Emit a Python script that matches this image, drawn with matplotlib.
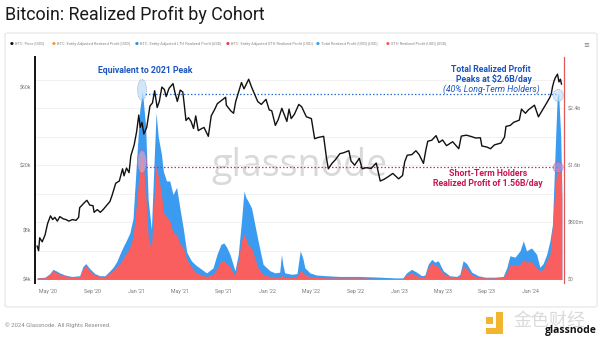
import matplotlib
matplotlib.use("Agg")
import matplotlib.pyplot as plt
import matplotlib.dates as mdates
from matplotlib.patches import Ellipse, FancyBboxPatch, Rectangle
import pandas as pd

# ---------------- data ----------------
price_dates = ["2020-04-01","2020-04-05","2020-04-08","2020-04-15","2020-04-23","2020-04-30","2020-05-08","2020-05-14",
"2020-05-20","2020-05-27","2020-06-03","2020-06-12","2020-06-20","2020-06-28","2020-07-08","2020-07-18","2020-07-25",
"2020-07-28","2020-08-02","2020-08-10","2020-08-17","2020-08-25","2020-09-03","2020-09-06","2020-09-15","2020-09-23",
"2020-10-01","2020-10-10","2020-10-20","2020-10-26","2020-11-05","2020-11-15","2020-11-24","2020-11-28","2020-12-05",
"2020-12-12","2020-12-17","2020-12-26","2021-01-02","2021-01-08","2021-01-12","2021-01-17","2021-01-22","2021-01-30",
"2021-02-08","2021-02-15","2021-02-21","2021-02-28","2021-03-06","2021-03-13","2021-03-20","2021-03-25","2021-04-02",
"2021-04-13","2021-04-18","2021-04-25","2021-05-03","2021-05-10","2021-05-13","2021-05-19","2021-05-26","2021-06-02",
"2021-06-09","2021-06-15","2021-06-22","2021-07-02","2021-07-08","2021-07-20","2021-07-28","2021-08-07","2021-08-14",
"2021-08-22","2021-09-06","2021-09-08","2021-09-20","2021-09-28","2021-10-04","2021-10-14","2021-10-20","2021-10-27",
"2021-11-09","2021-11-17","2021-11-26","2021-12-04","2021-12-14","2021-12-27","2022-01-05","2022-01-12","2022-01-22",
"2022-01-30","2022-02-09","2022-02-23","2022-03-01","2022-03-07","2022-03-16","2022-03-28","2022-04-05","2022-04-18",
"2022-05-02","2022-05-11","2022-05-20","2022-06-05","2022-06-13","2022-06-18","2022-06-28","2022-07-07","2022-07-20",
"2022-07-30","2022-08-14","2022-08-20","2022-08-30","2022-09-12","2022-09-20","2022-10-01","2022-10-15","2022-10-29",
"2022-11-09","2022-11-20","2022-12-01","2022-12-14","2022-12-30","2023-01-10","2023-01-16","2023-01-23","2023-02-05",
"2023-02-16","2023-02-25","2023-03-09","2023-03-16","2023-03-21","2023-04-01","2023-04-13","2023-04-21","2023-05-01",
"2023-05-12","2023-05-29","2023-06-15","2023-06-22","2023-07-06","2023-07-20","2023-08-01","2023-08-14","2023-08-18",
"2023-09-01","2023-09-11","2023-09-22","2023-10-10","2023-10-20","2023-10-24","2023-11-05","2023-11-14","2023-11-30",
"2023-12-06","2023-12-17","2023-12-25","2024-01-11","2024-01-22","2024-02-01","2024-02-14","2024-02-23","2024-02-27",
"2024-03-01","2024-03-05","2024-03-09","2024-03-15","2024-03-19","2024-03-23","2024-03-26"]
price_k = [6.4,6.0,7.2,6.8,7.5,8.8,9.8,9.3,
9.6,9.1,9.7,9.4,9.3,9.1,9.3,9.2,9.6,
11.0,11.3,11.8,12.2,11.4,11.3,10.3,10.7,10.3,
10.7,11.3,12.0,13.1,15.5,16.0,19.0,17.2,19.2,
18.0,22.8,26.5,32.0,40.5,34.0,36.5,31.0,34.0,
46.0,48.0,57.0,45.0,49.0,60.0,58.0,52.5,59.0,
63.0,56.0,49.0,57.5,56.0,49.5,37.5,39.0,37.0,
33.5,40.0,32.5,33.5,34.0,30.0,40.0,44.0,47.5,
49.0,52.0,46.5,43.0,41.5,49.0,58.0,64.0,58.5,
67.0,60.0,54.0,49.0,47.0,50.5,43.5,43.0,35.0,
38.0,44.5,37.0,44.0,38.5,41.0,47.0,45.5,39.5,
38.5,29.0,29.5,30.0,22.0,19.0,20.5,21.5,23.5,
23.8,24.5,21.2,20.0,22.0,19.0,19.3,19.1,20.6,
16.0,16.4,17.0,17.8,16.5,17.3,21.0,23.0,23.2,
24.5,23.2,20.5,25.0,28.0,28.4,30.3,27.5,28.5,
26.3,27.8,25.2,30.1,30.5,29.9,29.3,29.4,26.2,
25.8,25.2,26.6,27.3,29.7,34.5,35.0,36.5,37.7,
44.0,41.5,43.5,46.5,39.5,43.0,48.0,52.0,55.0,
60.0,65.0,68.5,72.0,64.5,67.0,62.6]

rp_dates = ["2020-04-01","2020-04-23","2020-05-06","2020-05-15","2020-05-23","2020-06-03","2020-06-17","2020-07-06",
"2020-07-28","2020-08-06","2020-08-14","2020-08-25","2020-09-08","2020-09-22","2020-10-06","2020-10-20","2020-10-29",
"2020-11-08","2020-11-17","2020-11-25","2020-12-05","2020-12-14","2020-12-23","2021-01-02","2021-01-11","2021-01-18",
"2021-01-27","2021-02-03","2021-02-12","2021-02-19","2021-02-25","2021-03-03","2021-03-12","2021-03-17","2021-03-26",
"2021-04-04","2021-04-13","2021-04-23","2021-05-02","2021-05-11","2021-05-21","2021-06-03","2021-06-15","2021-06-26",
"2021-07-15","2021-08-02","2021-08-13","2021-08-24","2021-09-01","2021-09-09","2021-09-18","2021-10-02","2021-10-11",
"2021-10-20","2021-10-27","2021-11-01","2021-11-07","2021-11-17","2021-11-26","2021-12-05","2021-12-19","2022-01-07",
"2022-01-21","2022-02-03","2022-02-08","2022-02-12","2022-02-17","2022-03-09","2022-03-23","2022-04-01","2022-04-08",
"2022-04-14","2022-04-28","2022-05-16","2022-06-13","2022-07-20","2022-09-14","2022-11-08","2022-12-20","2023-01-11",
"2023-01-21","2023-02-04","2023-02-18","2023-03-04","2023-03-13","2023-03-22","2023-04-01","2023-04-10","2023-04-19",
"2023-05-03","2023-05-21","2023-06-09","2023-06-18","2023-06-27","2023-07-07","2023-07-21","2023-08-08","2023-08-27",
"2023-09-23","2023-10-16","2023-10-26","2023-11-04","2023-11-18","2023-12-02","2023-12-11","2023-12-20","2024-01-03",
"2024-01-17","2024-01-26","2024-02-04","2024-02-14","2024-02-23","2024-03-01","2024-03-08","2024-03-14","2024-03-18",
"2024-03-24","2024-03-27"]
total_rp_b = [0.02,0.03,0.08,0.14,0.12,0.09,0.06,0.04,
0.05,0.18,0.22,0.15,0.08,0.05,0.05,0.12,0.17,
0.25,0.36,0.45,0.55,0.65,0.85,1.68,2.39,2.64,
2.15,1.12,0.70,1.60,2.34,2.00,1.75,1.52,1.38,
1.38,1.19,1.29,1.00,0.73,0.38,0.26,0.20,0.16,
0.09,0.16,0.35,0.49,0.51,0.45,0.35,0.12,0.35,
0.82,1.24,1.15,1.10,1.00,0.77,0.54,0.21,0.12,
0.09,0.10,0.35,0.20,0.09,0.07,0.08,0.40,0.30,
0.16,0.09,0.06,0.05,0.04,0.04,0.03,0.02,0.02,
0.09,0.14,0.10,0.05,0.06,0.21,0.28,0.24,0.26,
0.12,0.05,0.04,0.07,0.26,0.22,0.10,0.05,0.03,
0.03,0.04,0.16,0.33,0.31,0.40,0.54,0.40,0.44,
0.35,0.17,0.22,0.35,0.54,0.77,1.75,2.55,2.62,
1.99,1.29]
sth_rp_b = [0.02,0.02,0.07,0.12,0.10,0.07,0.05,0.03,
0.04,0.15,0.19,0.12,0.06,0.04,0.04,0.09,0.12,
0.18,0.22,0.30,0.37,0.45,0.60,1.08,1.59,1.75,
1.22,0.61,0.42,1.10,1.61,1.45,1.20,0.94,0.88,
0.82,0.66,0.63,0.50,0.45,0.28,0.17,0.10,0.07,
0.04,0.07,0.15,0.26,0.26,0.22,0.17,0.05,0.26,
0.54,0.63,0.58,0.49,0.44,0.30,0.16,0.07,0.04,
0.03,0.03,0.06,0.05,0.03,0.03,0.04,0.12,0.10,
0.06,0.04,0.03,0.02,0.02,0.02,0.01,0.01,0.01,
0.06,0.09,0.05,0.03,0.04,0.16,0.23,0.20,0.18,
0.08,0.04,0.03,0.05,0.19,0.15,0.06,0.03,0.02,
0.02,0.03,0.09,0.21,0.20,0.21,0.28,0.24,0.25,
0.16,0.12,0.14,0.26,0.35,0.73,1.29,1.56,1.58,
1.47,1.15]

left_ticks = [4000, 8000, 20000, 60000]
left_labels = ["$4k", "$8k", "$20k", "$60k"]
right_ticks = [0, 0.8, 1.6, 2.4]
right_labels = ["$0", "$800m", "$1.6b", "$2.4b"]
grid_levels = [0, 0.4, 0.8, 1.2, 1.6, 2.0, 2.4, 2.8]

legend_items = ["BTC: Price [USD]", "BTC: Entity-Adjusted Realized Profit [USD]",
                "BTC: Entity-Adjusted LTH Realized Profit [USD]", "BTC: Entity-Adjusted STH Realized Profit [USD]",
                "Total Realized Profit [USD] [USD]", "STH Realized Profit [USD] [USD]"]
legend_colors = ["#111111", "#f29a2e", "#2f8de4", "#e0435a", "#3a9bf0", "#f25d5d"]

# ---------------- figure ----------------
W, H = 600, 341
fig = plt.figure(figsize=(6, 3.41), dpi=100)
fig.patch.set_facecolor("white")
FONT = "Roboto"

def fx(px):
    return px / W

def fy(py):
    return 1 - py / H

panel = FancyBboxPatch((fx(5), fy(307)), fx(592), (307 - 33) / H,
                       boxstyle="round,pad=0,rounding_size=0.004",
                       transform=fig.transFigure, fc="white", ec="#e4e4e4", lw=0.8, zorder=-3)
fig.patches.append(panel)

# watermark
fig.text(fx(300), fy(166), "glassnode", fontsize=27, color="#d9d9d9", family="Open Sans",
         ha="center", va="center", zorder=-1)

ax2 = fig.add_axes([fx(35), fy(283), fx(564 - 35), (283 - 57) / H])
ax = ax2.twinx()
ax.set_zorder(ax2.get_zorder() + 1)
ax.patch.set_visible(False)
ax2.patch.set_visible(False)

pdates = pd.to_datetime(price_dates)
rdates = pd.to_datetime(rp_dates)

blue = "#3a9bf0"
red = "#fa5f5f"
ax2.fill_between(rdates, 0, total_rp_b, color=blue, lw=0, zorder=2)
ax2.fill_between(rdates, 0, sth_rp_b, color=red, lw=0, zorder=3)

ax.plot(pdates, [p * 1000 for p in price_k], color="#111111", lw=1.0, zorder=5)

# axes scales
ax2.set_xlim(pd.Timestamp("2020-03-26"), pd.Timestamp("2024-04-02"))
ax2.set_ylim(-0.052, 3.12)
ax.set_yscale("log")
ax.set_ylim(3810, 91600)

ax.yaxis.tick_left()
ax.yaxis.set_label_position("left")
ax2.yaxis.tick_right()
ax.set_yticks(left_ticks)
ax.set_yticklabels(left_labels)
ax.yaxis.set_minor_locator(matplotlib.ticker.NullLocator())
ax2.set_yticks(grid_levels)
ax2.set_yticklabels([right_labels[right_ticks.index(v)] if v in right_ticks else "" for v in grid_levels])
ax2.grid(axis="y", color="#efefef", lw=0.6)
ax2.set_axisbelow(True)

ax2.xaxis.set_major_locator(mdates.MonthLocator(bymonth=[1, 5, 9]))
ax2.xaxis.set_major_formatter(mdates.DateFormatter("%b '%y"))

for a in (ax, ax2):
    a.tick_params(axis="both", length=0, labelsize=3.8, labelcolor="#777777")
    for s in a.spines.values():
        s.set_visible(False)
ax.tick_params(axis="y", pad=3)
ax2.tick_params(axis="y", pad=3)
ax2.tick_params(axis="x", pad=4)
for lab in ax.get_yticklabels() + ax2.get_yticklabels() + ax2.get_xticklabels():
    lab.set_family(FONT)

ax.spines["left"].set_visible(True)
ax.spines["left"].set_color("#111111")
ax.spines["left"].set_linewidth(1.4)
ax2.spines["right"].set_visible(True)
ax2.spines["right"].set_color("#e05a5a")
ax2.spines["right"].set_linewidth(0.9)

# reference lines and highlight ellipses
d2n = lambda s: mdates.date2num(pd.Timestamp(s))
ax2.hlines(2.6, d2n("2021-01-24"), d2n("2024-03-11"), colors="#2f6fd0",
           linestyles=(0, (1.2, 1.6)), lw=0.9, zorder=6)
ax2.hlines(1.58, d2n("2021-01-28"), d2n("2024-03-13"), colors="#c2336b",
           linestyles=(0, (1.2, 1.6)), lw=0.9, zorder=6)

ell_specs = [("2021-01-17", 2.66, 25, 0.29, "#bcd8f4", "#5b9bd8"),
             ("2021-01-17", 1.65, 25, 0.32, "#d9a6cf", "#c2407a"),
             ("2024-03-17", 2.58, 28, 0.17, "#c4dcf4", "#5b9bd8"),
             ("2024-03-17", 1.57, 28, 0.15, "#b890d6", "#c2407a")]
for d, yv, wd, ht, fc, ec in ell_specs:
    e = Ellipse((d2n(d), yv), wd, ht, facecolor=fc, edgecolor=ec, lw=0.7,
                linestyle=(0, (1, 1)), alpha=0.65, zorder=7)
    ax2.add_patch(e)

# annotations
ann_blue = "#1c55c0"
ann_red = "#c8174e"
fig.text(fx(145.5), fy(70.7), "Equivalent to 2021 Peak", fontsize=6.3, weight="bold",
         color=ann_blue, ha="center", va="center", family=FONT)
fig.text(fx(491), fy(69.3), "Total Realized Profit", fontsize=6.3, weight="bold",
         color=ann_blue, ha="center", va="center", family=FONT)
fig.text(fx(494), fy(79.5), "Peaks at $2.6B/day", fontsize=6.3, weight="bold",
         color=ann_blue, ha="center", va="center", family=FONT)
fig.text(fx(491), fy(89.2), "(40% Long-Term Holders)", fontsize=6.3, style="italic",
         color=ann_blue, ha="center", va="center", family=FONT)
fig.text(fx(488), fy(174), "Short-Term Holders", fontsize=6.3, weight="bold",
         color=ann_red, ha="center", va="center", family=FONT)
fig.text(fx(488), fy(184), "Realized Profit of 1.56B/day", fontsize=6.3, weight="bold",
         color=ann_red, ha="center", va="center", family=FONT)

# title
fig.text(fx(5), fy(15), "Bitcoin: Realized Profit by Cohort", fontsize=12.9, color="#1a1a1a",
         ha="left", va="center", family=FONT)

# legend row
leg_x = [12, 54, 137, 228, 318, 388]
for x, txt, c in zip(leg_x, legend_items, legend_colors):
    fig.text(fx(x), fy(43.5), "\u25cf", fontsize=3.2, color=c, ha="center", va="center")
    fig.text(fx(x + 3), fy(43.5), txt, fontsize=2.9, color="#8a8a8a", ha="left", va="center", family=FONT)
fig.text(fx(586), fy(45), "\u2261", fontsize=5, color="#777777", ha="center", va="center")

# footer
fig.text(fx(5), fy(325), "\u00a9 2024 Glassnode. All Rights Reserved.", fontsize=4.3,
         color="#8a8a8a", ha="left", va="center", family=FONT)
for (x0, y0, w, h) in [(486, 317, 7, 7), (496, 312, 7, 22), (486, 328, 17, 6)]:
    fig.patches.append(Rectangle((fx(x0), fy(y0 + h)), w / W, h / H, transform=fig.transFigure,
                                 fc="#f2b530", ec="none", zorder=2))
fig.text(fx(549), fy(321), "金色财经", fontsize=13, color="#dadada", ha="center", va="center",
         family=["Noto Sans CJK SC", "DejaVu Sans"])
fig.text(fx(571), fy(331), "glassnode", fontsize=7.5, weight="bold", color="#111111",
         ha="center", va="center", family="Open Sans")

fig.savefig("out.png", dpi=100, facecolor="white")
